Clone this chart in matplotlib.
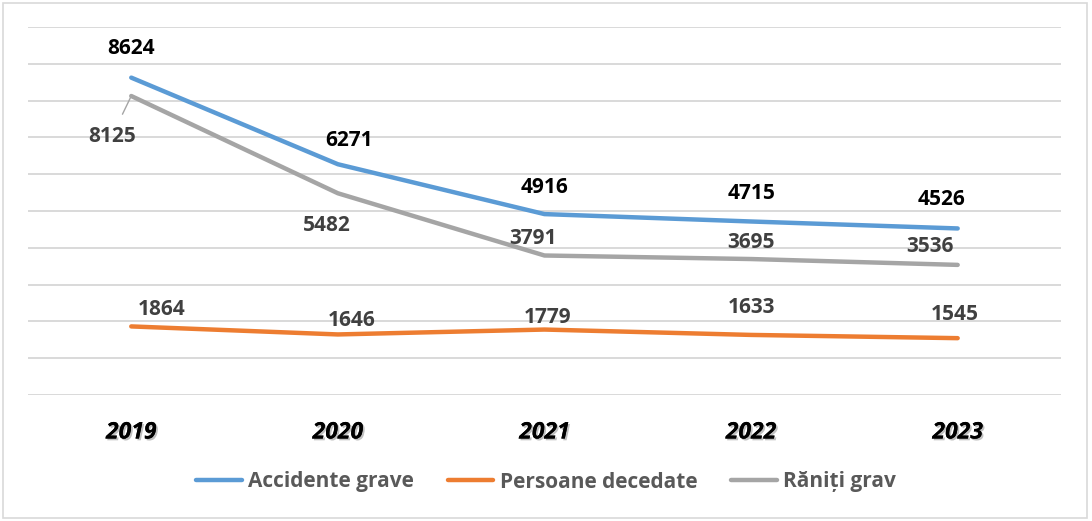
import matplotlib
matplotlib.use("Agg")
import matplotlib.pyplot as plt
import matplotlib.patheffects as pe
from matplotlib.patches import Rectangle

plt.rcParams["font.family"] = ["Open Sans", "DejaVu Sans"]

ani = ["2019", "2020", "2021", "2022", "2023"]
accidente = [8624, 6271, 4916, 4715, 4526]
decedati = [1864, 1646, 1779, 1633, 1545]
raniti = [8125, 5482, 3791, 3695, 3536]

C_BLUE = "#5B9BD5"
C_ORANGE = "#ED7D31"
C_GRAY = "#A5A5A5"
C_TXT = "#404040"

fig = plt.figure(figsize=(10.92, 5.21), dpi=100)
ax = fig.add_axes([0.0256, 0.2418, 0.946, 0.7064])

x = list(range(len(ani)))
ax.plot(x, accidente, color=C_BLUE, lw=3.2, solid_capstyle="round", label="Accidente grave", zorder=3)
ax.plot(x, decedati, color=C_ORANGE, lw=3.2, solid_capstyle="round", label="Persoane decedate", zorder=3)
ax.plot(x, raniti, color=C_GRAY, lw=3.2, solid_capstyle="round", label="Răniți grav", zorder=3)

ax.set_xlim(-0.5, 4.5)
ax.set_ylim(0, 10000)
ax.set_yticks(range(0, 10001, 1000))
ax.yaxis.grid(True, color="#D9D9D9", lw=1.4)
ax.set_axisbelow(True)
for s in ax.spines.values():
    s.set_visible(False)
ax.tick_params(left=False, bottom=False, labelleft=False, labelbottom=False)

# etichete ani, cu umbra
for xi, a in zip(x, ani):
    ax.annotate(a, (xi, 0), xytext=(0, -27), textcoords="offset points",
                ha="center", va="center", fontsize=16.5, fontweight="bold",
                fontstyle="italic", color="black",
                path_effects=[pe.withSimplePatchShadow(offset=(1.3, -1.3),
                                                        shadow_rgbFace="#999999", alpha=0.6),
                              pe.Normal()])

# etichete valori
off_acc = [(0, 21), (8, 17), (0, 19), (0, 20), (-12, 21)]
off_ran = [(-14, -29), (-8, -23), (-8, 12), (0, 12), (-20, 13)]
off_dec = [(22, 12), (10, 10), (2, 9), (0, 20), (-2, 17)]
fs = 15
for xi, v, o in zip(x, accidente, off_acc):
    ax.annotate(str(v), (xi, v), xytext=o, textcoords="offset points",
                ha="center", va="center", fontsize=fs, fontweight="bold", color="black")
for i, (xi, v, o) in enumerate(zip(x, raniti, off_ran)):
    kw = {}
    if i == 0:
        kw["arrowprops"] = dict(arrowstyle="-", color=C_GRAY, lw=1, shrinkA=7, shrinkB=0)
    ax.annotate(str(v), (xi, v), xytext=o, textcoords="offset points",
                ha="center", va="center", fontsize=fs, fontweight="bold", color=C_TXT, **kw)
for xi, v, o in zip(x, decedati, off_dec):
    ax.annotate(str(v), (xi, v), xytext=o, textcoords="offset points",
                ha="center", va="center", fontsize=fs, fontweight="bold", color=C_TXT)

leg = fig.legend(loc="center", bbox_to_anchor=(0.5, 1 - 482 / 521), ncol=3,
                 frameon=False, handlelength=2.2, columnspacing=1.6, handletextpad=0.3,
                 prop={"size": 15, "weight": "bold"})
for t in leg.get_texts():
    t.set_color("#595959")

fig.patches.append(Rectangle((3 / 1092, 3 / 521), 1084 / 1092, 515 / 521,
                             transform=fig.transFigure, fill=False,
                             edgecolor="#D9D9D9", lw=1.2))

fig.savefig("out.png", dpi=100)
